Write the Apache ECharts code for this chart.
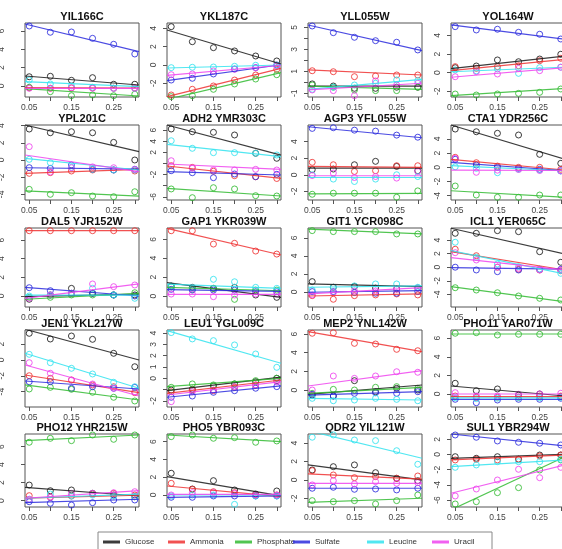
<!DOCTYPE html>
<html>
<head>
<meta charset="utf-8">
<script src="https://cdn.jsdelivr.net/npm/echarts@6/dist/echarts.min.js"></script>
<style>html,body{margin:0;padding:0;background:#fff}#c{width:562px;height:549px}</style>
</head>
<body>
<div id="c"></div>
<script>
// ---------- DATA ----------
const titles = ['YIL166C','YKL187C','YLL055W','YOL164W','YPL201C','ADH2 YMR303C','AGP3 YFL055W','CTA1 YDR256C','DAL5 YJR152W','GAP1 YKR039W','GIT1 YCR098C','ICL1 YER065C','JEN1 YKL217W','LEU1 YGL009C','MEP2 YNL142W','PHO11 YAR071W','PHO12 YHR215W','PHO5 YBR093C','QDR2 YIL121W','SUL1 YBR294W'];
const nutrients = ['Glucose','Ammonia','Phosphate','Sulfate','Leucine','Uracil'];
const xValues = [0.05, 0.10, 0.15, 0.20, 0.25, 0.30];
const xTicks = [0.05, 0.10, 0.15, 0.20, 0.25, 0.30];
const xTickLabels = [0.05, 0.15, 0.25];
const xRange = [0.04, 0.31];

const yMin = [-1.2,-3.49,-1.34,-2.61,-4.65,-6.58,-3.04,-4.6,-1.18,-1.16,-1.67,-5.86,-5.95,-2.54,-1.82,-1.4,-0.7,-1.35,-2.93,-6.92];
const yMax = [6.87,4.58,5.39,5.34,4.07,6.94,6.0,5.96,7.29,7.2,7.1,5.77,3.8,4.27,6.43,6.88,7.41,6.85,4.98,2.7];
const yTicks = [[0,2,4,6],[-2,0,2,4],[-1,0,1,2,3,4,5],[-2,0,2,4],[-4,-2,0,2,4],[-6,-4,-2,0,2,4,6],[-2,0,2,4],[-4,-2,0,2,4],[0,2,4,6],[0,2,4,6],[0,2,4,6],[-4,-2,0,2,4],[-4,-2,0,2],[-2,-1,0,1,2,3,4],[0,2,4,6],[0,2,4,6],[0,2,4,6],[0,2,4,6],[-2,0,2,4],[-6,-4,-2,0,2]];
const yTickLabels = [[0,2,4,6],[-2,0,2,4],[-1,1,3,5],[-2,0,2,4],[-4,-2,0,2,4],[-6,-2,2,4,6],[-2,0,2,4],[-4,-2,0,2,4],[0,2,4,6],[0,2,4,6],[0,2,4,6],[-4,-2,0,2,4],[-4,-2,0,2],[-2,0,1,2,3,4],[0,2,4,6],[0,2,4,6],[0,2,4,6],[0,2,4,6],[-2,0,2,4],[-6,-4,-2,0,2]];

const glucose = [
[1.01,1.06,0.62,0.91,0.19,0.19],[4.18,2.54,1.89,1.53,0.98,0.44],[-0.15,-0.34,-0.55,-0.55,-0.45,-0.45],[0.54,0.72,1.37,1.18,1.47,1.98],
[3.6,3.17,3.29,3.17,2.05,0],[6.22,5.73,5.62,5.14,1.84,0.94],[0.61,0.69,1.21,1.62,1.01,0.49],[5.39,5.01,4.79,4.55,1.83,0.56],
[-0.35,0.11,0.82,0.29,0.11,0.11],[1.06,0.92,0.81,0.92,0.11,-0.14],[1.15,0.52,0.61,0.43,0.33,0.43],[4.99,4.99,5.38,5.23,2.28,0.72],
[3.38,2.66,3.04,2.62,0.85,-0.85],[-1.04,-0.97,-0.68,-0.5,-0.3,0],[-0.54,-0.64,1.0,-0.18,0.18,0],[1.15,0.35,0.54,-0.11,0,-0.29],
[1.74,1.11,1.19,0.82,0.63,0.44],[2.44,0.67,1.61,0.56,0.11,0.45],[1.08,1.44,1.63,0.79,0.18,-0.08],[-0.29,-0.5,-0.29,-0.63,-0.07,-0.07]];
const ammonia = [
[-0.2,-0.25,-0.2,-0.2,-0.25,-0.2],[-3.27,-2.65,-2.29,-1.64,-1.09,-0.47],[1.05,0.96,0.51,0.57,0.66,0.66],[0.65,0.47,0.65,0.75,1.29,1.55],
[-1.55,-1.47,-1.28,-1.16,-1.16,-1.28],[-0.4,-0.7,-1.4,-2.2,-2.4,-2.7],[1.5,1.21,0.4,0.49,1.09,1.09],[1.41,0.65,0.18,0,0,-0.28],
[7.0,7.0,7.0,7.0,7.0,7.0],[6.91,6.91,5.5,5.58,4.76,4.44],[-0.41,-0.81,-0.41,-0.33,-0.22,-0.33],[2.64,1.69,0,-0.31,-0.41,-0.52],
[-1.99,-2.32,-2.53,-3.16,-3.38,-4.14],[-1.19,-1.04,-1.1,-0.8,-0.59,-0.21],[6.08,6.14,5.0,4.93,4.36,4.21],[-0.22,-0.35,-0.35,-0.35,-0.22,-0.22],
[0.56,0.38,0.52,0.74,0.82,0.63],[1.31,0.64,0.37,0.26,0,0],[1.01,0.54,0.25,0.36,0.18,0.43],[-0.72,-0.63,-0.72,-0.63,-0.2,-0.07]];
const phosphate = [
[-0.14,-0.62,-1.06,-0.98,-1.06,-0.9],[-3.45,-3.35,-2.65,-2.07,-1.53,-1.06],[-0.25,-0.45,-0.7,-0.76,-0.76,-0.45],[-2.29,-2.4,-2.29,-2.22,-2.11,-1.75],
[-3.41,-3.99,-3.8,-4.19,-4.27,-3.69],[-4.59,-6.16,-4.36,-4.59,-5.8,-5.86],[-2.35,-2.22,-2.22,-2.22,-2.71,-1.94],[-2.63,-3.9,-4.22,-4.22,-3.9,-3.9],
[-0.14,-0.14,0.11,0.11,0.11,0.35],[0.98,0.71,0.81,-0.35,0.63,0.63],[6.81,6.7,6.7,6.7,6.44,6.44],[-3.02,-3.36,-3.76,-4.24,-4.58,-4.83],
[-3.67,-3.46,-3.71,-4.09,-4.72,-5.19],[-0.8,-0.5,-0.59,-0.5,-0.21,0],[-0.36,0.07,0,0.29,0.36,0.18],[6.53,6.59,6.34,6.42,6.42,6.42],
[6.49,6.93,6.67,7.3,6.82,7.3],[6.55,6.74,6.37,6.44,5.92,6.07],[-2.24,-2.35,-2.24,-2.6,-2.24,-1.63],[-6.52,-6.22,-5.03,-4.37,-2.04,-0.72]];
const sulfate = [
[6.54,5.86,5.89,5.2,4.55,3.49],[-1.64,-1.45,-0.98,-0.44,-0.29,0],[5.12,4.51,4.09,3.78,3.64,2.94],[4.95,4.59,4.67,4.34,4.13,3.62],
[-0.89,-0.97,-0.58,-1.08,-1.16,-1.08],[-1.3,-1.66,-2.56,-1.89,-2.38,-1.95],[5.59,5.67,5.38,5.26,4.78,4.53],[1.13,0.32,0,-0.14,-0.28,-0.48],
[0.89,0.57,0.29,0.29,0.11,0],[0.71,0.63,0.63,0.63,0.46,0.46],[0.04,0.04,-0.07,-0.14,-0.14,0.04],[0,-0.41,-0.66,-0.41,-0.31,-0.31],
[-2.75,-2.75,-3.58,-3.38,-3.58,-3.46],[-1.68,-1.57,-1.24,-1.1,-0.88,-0.74],[-0.46,-0.64,-0.36,-0.29,-0.36,-0.18],[-0.57,-0.94,-0.65,-0.57,-0.57,-0.46],
[-0.11,-0.29,-0.48,-0.22,0.08,0.08],[-0.26,-0.26,-0.11,-0.11,-0.11,-0.11],[-0.9,-0.79,-1.01,-0.98,-1.08,-0.9],[2.57,2.27,1.78,1.61,1.48,1.25]];
const leucine = [
[0.65,0.22,0,-0.14,-0.25,-0.25],[-0.29,-0.25,-0.22,-0.14,-0.03,-0.03],[-0.64,-0.45,-0.25,-0.09,0.21,0.15],[0.3,0.2,0.4,-0.07,0.54,0.6],
[0.08,-0.31,-0.85,-1.08,-1.16,-1.16],[4.1,2.74,1.95,1.95,1.84,1.53],[0,-0.52,-0.81,-0.52,0,-0.21],[0.08,-0.14,-0.76,-0.28,-0.38,-0.52],
[0,0.11,0.29,0.82,0.11,-0.25],[1.06,0.81,1.77,1.51,0.92,0.81],[0.22,0.52,0.67,0.89,0.89,0.52],[3.67,1.46,0.47,0.07,-0.31,-0.9],
[0.72,-0.34,-1.05,-1.77,-2.82,-3.38],[4.04,3.48,3.33,2.95,2.15,0.97],[-0.89,-1.15,-1.07,-0.89,-1.0,-1.15],[-0.4,-0.5,-0.45,-0.4,-0.4,-0.35],
[0.16,0.74,0.52,0.63,0.52,0.44],[-0.11,0,0,-1.05,-0.11,-0.11],[4.63,4.88,4.33,4.26,3.17,1.7],[-1.69,-1.38,-0.95,-0.95,-0.95,-0.63]];
const uracil = [
[-0.25,-0.25,-0.2,-0.25,-0.25,-0.25],[-1.06,-0.98,-0.65,-0.47,-0.29,-0.11],[-0.7,-0.76,-1.22,0.12,-0.25,-0.09],[-0.43,0.11,-0.14,0.47,0.22,0.58],
[1.55,-1.4,-0.9,-0.8,-0.9,-1.1],[0.5,-0.86,-1.17,-1.17,-1.05,-1.17],[-0.09,0.21,-0.33,-0.21,-0.4,0.4],[1.27,-0.7,-0.4,-0.3,-0.45,-0.5],
[-0.25,0.11,0.29,1.29,1.0,1.18],[0.21,0.21,-0.07,0.11,0.21,0.21],[-0.33,-0.07,0.11,0.11,0.3,0.41],[2.14,1.06,0,-0.16,-0.41,-0.41],
[-0.34,-1.68,-2.53,-3.04,-3.58,-4.01],[-2.07,-1.19,-1.04,-0.74,-0.59,-0.3],[0,1.5,1.25,1.5,1.96,1.9],[0.14,-0.22,-0.22,-0.03,0,0.08],
[0.16,0.38,0.82,0.82,0.89,1.0],[0,0.26,0.26,0.19,0,0],[-0.54,-0.08,-0.43,-0.18,-0.36,-0.29],[-5.47,-4.55,-3.36,-1.95,-3.06,-1.69]];

// fitted-line values read at the left (x=0.04) and right (x=0.31) plot edges
const glucoseFit = [[1.09,0.11],[3.82,0.11],[-0.36,-0.36],[0.43,1.8],[4.07,0.97],[6.94,1.5],[0.81,0.81],[5.96,1.13],[-0.07,0.21],[1.41,-0.14],[0.89,0.6],[5.73,1.94],[3.89,0],[-1.1,0.1],[-0.46,0.54],[0.86,-0.22],[1.49,0.52],[2.06,-0.11],[1.63,0],[-0.5,0.03]];
const ammoniaFit = [[-0.18,-0.22],[-3.45,-0.36],[1.12,0.66],[0.22,1.44],[-1.55,-1.08],[-0.45,-2.67],[1.01,0.9],[1.13,-0.38],[7.0,7.0],[7.16,4.34],[-0.45,-0.22],[2.28,-0.41],[-1.9,-4.14],[-1.33,-0.15],[6.25,4.11],[-0.29,-0.29],[0.27,0.63],[1.01,-0.19],[0.65,0.08],[-0.72,-0.07]];
const phosphateFit = [[-0.29,-1.09],[-3.75,-0.84],[-0.36,-0.64],[-2.47,-1.68],[-3.6,-4.19],[-4.47,-5.86],[-2.31,-2.25],[-3.3,-4.22],[-0.35,0.29],[0.92,0.56],[6.97,6.44],[-2.87,-5.08],[-3.16,-5.06],[-0.74,0],[-0.36,0.29],[6.45,6.45],[6.67,7.3],[6.74,5.99],[-2.42,-1.98],[-7.3,-0.29]];
const sulfateFit = [[6.76,3.74],[-1.71,0.03],[5.21,2.87],[5.13,3.59],[-0.9,-1.05],[-1.48,-2.07],[5.79,4.46],[0.7,-0.48],[0.93,0],[0.68,0.5],[-0.03,0.15],[-0.07,-0.3],[-2.66,-3.67],[-1.68,-0.68],[-0.54,-0.18],[-0.57,-0.57],[-0.22,0.16],[-0.26,-0.11],[-0.9,-0.9],[2.7,1.12]];
const leucineFit = [[0.47,-0.07],[-0.33,0],[-0.64,0.27],[0.1,0.6],[0.2,-1.16],[3.46,1.23],[-0.33,-0.33],[0.23,-0.5],[0.1,0.1],[1.27,0.81],[0.52,0.67],[2.43,-1.0],[0.85,-3.58],[4.21,1.33],[-0.89,-1.07],[-0.42,-0.42],[0.27,0.74],[0,0],[5.34,2.35],[-1.6,-0.72]];
const uracilFit = [[-0.25,-0.25],[-1.13,-0.03],[-0.7,-0.09],[-0.49,0.54],[0.58,-1.36],[-0.09,-1.05],[-0.12,-0.12],[-0.38,-0.45],[-0.25,1.29],[0.18,0.18],[-0.22,0.48],[1.4,-0.41],[-0.63,-4.56],[-1.48,-0.3],[0.43,2.07],[0,0],[0.27,1.11],[0.07,0.07],[-0.36,-0.36],[-5.11,-1.38]];

// ---------- STYLE / LAYOUT ----------
const colors = ['#1a1a1a','#ee3333','#33bb33','#2b2bdd','#33e3ee','#ee44ee'];
const pointSets = [glucose, ammonia, phosphate, sulfate, leucine, uracil];
const fitSets = [glucoseFit, ammoniaFit, phosphateFit, sulfateFit, leucineFit, uracilFit];
const FONT = 'Liberation Sans, Arial, Helvetica, sans-serif';
const colLeft = [25, 167, 308, 451];
const boxW = 114;
const rowTop = [23, 125, 228, 330, 434];
const rowH = [74, 75, 79, 77, 73];
const legendLeft = [103, 168, 235, 293, 367, 432];

const grids = [], xAxes = [], yAxes = [], series = [], graphics = [];
titles.forEach((t, i) => {
  const r = Math.floor(i / 4), c = i % 4;
  grids.push({left: colLeft[c], top: rowTop[r], width: boxW, height: rowH[r],
    outerBoundsMode: 'none', containLabel: false,
    show: true, borderColor: '#555', borderWidth: 1, backgroundColor: 'transparent'});
  xAxes.push({gridIndex: i, type: 'value', min: xRange[0], max: xRange[1], position: 'bottom',
    axisLine: {show: false, onZero: false}, splitLine: {show: false},
    axisTick: {show: true, length: 4, customValues: xTicks, lineStyle: {color: '#555'}},
    axisLabel: {customValues: xTickLabels, formatter: v => v.toFixed(2), fontSize: 8.5, color: '#444', margin: 6, fontFamily: FONT}});
  yAxes.push({gridIndex: i, type: 'value', min: yMin[i], max: yMax[i], position: 'left',
    axisLine: {show: false, onZero: false}, splitLine: {show: false},
    axisTick: {show: true, length: 4, customValues: yTicks[i], lineStyle: {color: '#555'}},
    axisLabel: {customValues: yTickLabels[i], rotate: 90, fontSize: 8.5, color: '#444', margin: c === 0 ? 19 : 9, fontFamily: FONT}});
  graphics.push({type: 'text', x: colLeft[c] + boxW / 2, y: rowTop[r] - 6,
    style: {text: t, font: 'bold 11px ' + FONT, fill: '#111', align: 'center', verticalAlign: 'middle'}});
  nutrients.forEach((n, k) => {
    series.push({type: 'scatter', name: n, xAxisIndex: i, yAxisIndex: i, silent: true,
      symbol: 'circle', symbolSize: 6,
      itemStyle: {color: 'rgba(0,0,0,0)', borderColor: colors[k], borderWidth: 1, opacity: 0.85},
      data: xValues.map((x, j) => [x, pointSets[k][i][j]])});
  });
  nutrients.forEach((n, k) => {
    series.push({type: 'line', name: n, xAxisIndex: i, yAxisIndex: i, silent: true, clip: true,
      symbol: 'none', lineStyle: {color: colors[k], width: 1.2, opacity: 0.85},
      data: [[xRange[0], fitSets[k][i][0]], [xRange[1], fitSets[k][i][1]]]});
  });
});

graphics.push({type: 'rect', shape: {x: 98, y: 532, width: 394, height: 30},
  style: {fill: 'none', stroke: '#888', lineWidth: 1}});

const legends = nutrients.map((n, k) => ({
  data: [{name: n, itemStyle: {color: colors[k], borderWidth: 0}}],
  left: legendLeft[k], top: 538, padding: 0, itemGap: 0,
  icon: 'rect', itemWidth: 17, itemHeight: 3, selectedMode: false,
  textStyle: {fontSize: 8, color: '#333', fontFamily: FONT}
}));

const chart = echarts.init(document.getElementById('c'), null, {renderer: 'canvas'});
chart.setOption({
  animation: false,
  backgroundColor: '#fff',
  grid: grids, xAxis: xAxes, yAxis: yAxes, series: series,
  legend: legends, graphic: graphics
});
</script>
</body>
</html>
